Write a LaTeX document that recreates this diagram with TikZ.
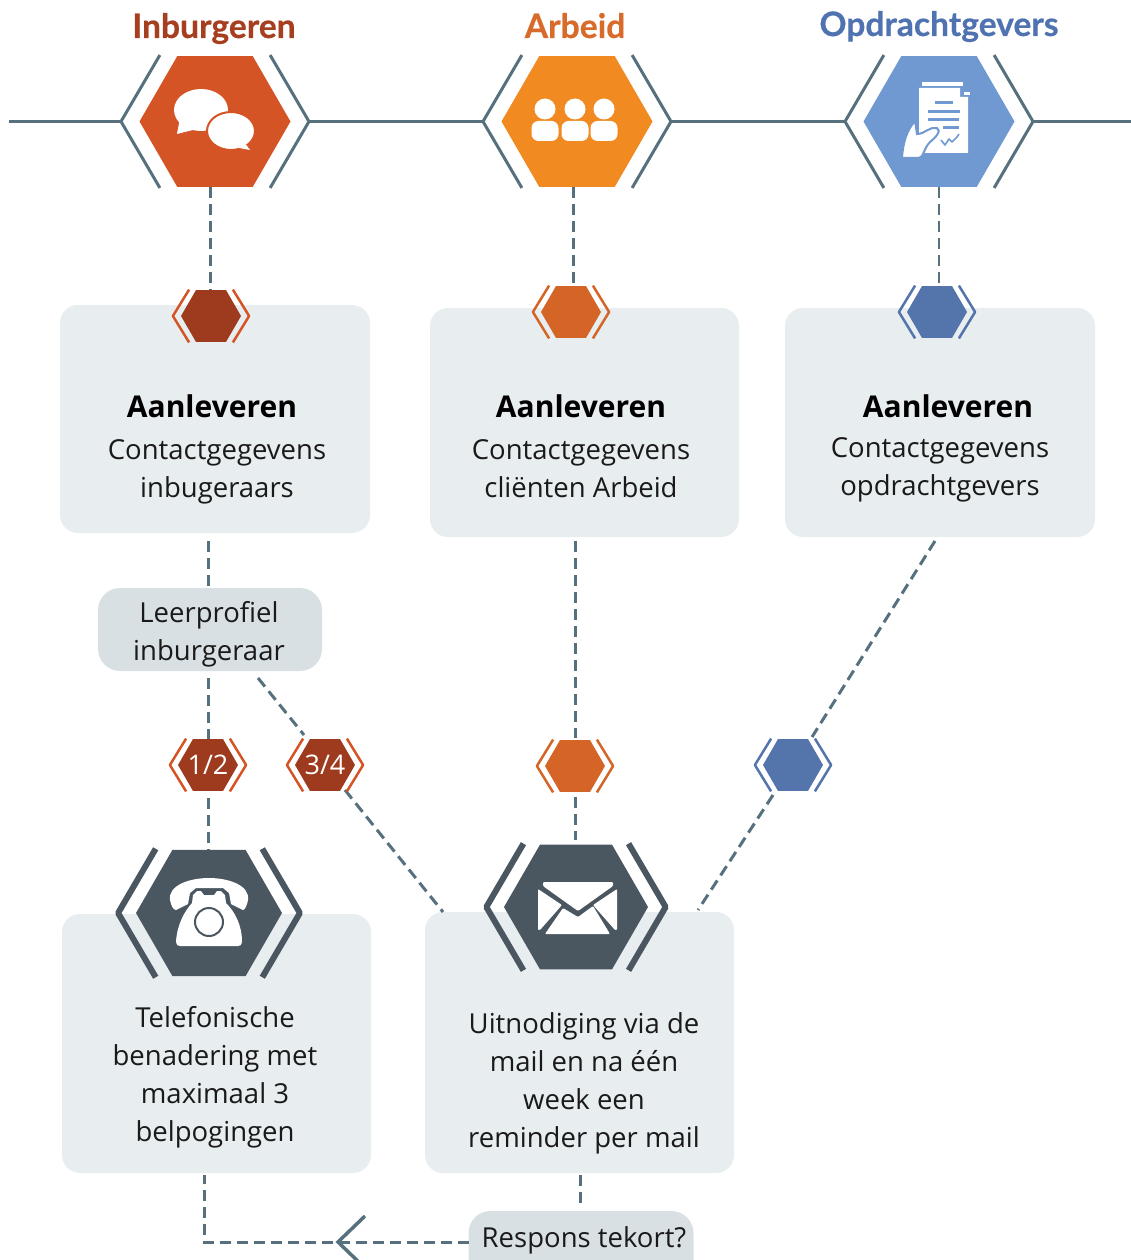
\documentclass[tikz,border=0pt]{standalone}
\usepackage{fontspec}
\setmainfont{Open Sans}
\newfontfamily\titlefont{Lato}[BoldFeatures={FakeBold=0.5}]
\usetikzlibrary{calc}
\pgfdeclarelayer{cardlayer}
\pgfdeclarelayer{connlayer}
\pgfsetlayers{cardlayer,connlayer,main}
\definecolor{linecol}{HTML}{56707E}
\definecolor{cardcol}{HTML}{E8EDEF}
\definecolor{pillcol}{HTML}{D9E0E4}
\definecolor{txtcol}{HTML}{1A1A1A}
\definecolor{hexred}{HTML}{D45426}
\definecolor{hexorange}{HTML}{F08A21}
\definecolor{hexblue}{HTML}{7099D2}
\definecolor{darkred}{HTML}{9E3B1E}
\definecolor{midorange}{HTML}{D56527}
\definecolor{midblue}{HTML}{5474AC}
\definecolor{slate}{HTML}{4A5660}
\definecolor{titlered}{HTML}{A63E20}
\definecolor{titleorange}{HTML}{D86A2A}
\definecolor{titleblue}{HTML}{4F72B0}
% name, x, y, R, fill colour, chevron colour, chevron width, text
\newcommand{\hexmark}[8]{%
  \ifdim #4pt>40pt \def\chevtip{1.245}\else \def\chevtip{1.27}\fi
  \begin{scope}[shift={(#2,#3)},x=#4pt,y=#4pt]
    \fill[#5] (-1,0) -- (-.5,-.866) -- (.5,-.866) -- (1,0) -- (.5,.866) -- (-.5,.866) -- cycle;
    \draw[#6,line width=#7,line join=bevel] (-.73,-.88) -- (-\chevtip,0) -- (-.73,.88);
    \draw[#6,line width=#7,line join=bevel] (.73,-.88) -- (\chevtip,0) -- (.73,.88);
  \end{scope}
  \node[minimum width=#4*2pt,minimum height=#4*1.732pt,inner sep=0pt,outer sep=0pt,text=white,font=\fontsize{27}{27}\selectfont] (#1) at (#2,#3) {#8};
}
\tikzset{
  card/.style={fill=cardcol,rounded corners=18pt,inner sep=0pt,outer sep=0pt},
  pill/.style={fill=pillcol,rounded corners=22pt,inner sep=0pt,outer sep=0pt},
  conn/.style={draw=linecol,line width=3pt,dash pattern=on 11pt off 6pt},
  solidline/.style={draw=linecol,line width=3pt},
  head/.style={font=\fontsize{30}{30}\selectfont\bfseries,text=black,inner sep=0pt},
  body/.style={font=\fontsize{27.5}{38}\selectfont,text=txtcol,align=center,inner sep=0pt,anchor=base},
  htitle/.style={font=\titlefont\fontsize{33.6}{34}\selectfont\bfseries,inner sep=0pt,anchor=base},
}
\begin{document}
\begin{tikzpicture}[x=1pt,y=-1pt]
\useasboundingbox (0,0) rectangle (1131,1260);
\clip (0,0) rectangle (1131,1260);
\begin{pgfonlayer}{cardlayer}
  \node[card,minimum width=310pt,minimum height=228pt] (cardA) at (215,419) {};
  \node[card,minimum width=309pt,minimum height=229pt] (cardB) at (584.5,422.5) {};
  \node[card,minimum width=310pt,minimum height=229pt] (cardC) at (940,422.5) {};
  \node[card,minimum width=309pt,minimum height=259pt] (cardD) at (216.5,1043.5) {};
  \node[card,minimum width=309pt,minimum height=261pt] (cardE) at (579.5,1042.5) {};
  \node[pill,minimum width=224pt,minimum height=83pt] (leer) at (210,629.5) {};
  \node[pill,minimum width=225pt,minimum height=90pt] (resp) at (581,1256) {};
\end{pgfonlayer}

% large hexagons
\hexmark{hexA}{215}{121.5}{75.5}{hexred}{linecol}{3pt}{}
\hexmark{hexB}{577}{121.5}{75.5}{hexorange}{linecol}{3pt}{}
\hexmark{hexC}{939}{121.5}{75.5}{hexblue}{linecol}{3pt}{}
% small hexagons
\hexmark{smA}{211}{316}{30}{darkred}{hexred}{2.5pt}{}
\hexmark{smB}{571}{312}{30}{midorange}{midorange}{2.5pt}{}
\hexmark{smC}{937}{312}{30}{midblue}{midblue}{2.5pt}{}
\hexmark{hOne}{208}{765}{30}{darkred}{hexred}{2.5pt}{1/2}
\hexmark{hThree}{325}{765}{30}{darkred}{hexred}{2.5pt}{3/4}
\hexmark{hMidB}{575}{766}{30}{midorange}{midorange}{2.5pt}{}
\hexmark{hMidC}{793}{765}{30}{midblue}{midblue}{2.5pt}{}
% dark hexagons
\hexmark{phone}{209}{913}{73}{slate}{slate}{6pt}{}
\hexmark{mail}{576}{907}{72}{slate}{slate}{6pt}{}

\coordinate (lineL) at (9,121.5);
\coordinate (lineR) at (1131,121.5);
\coordinate (ld1) at (258,678);
\coordinate (ld2) at (304,735);
\coordinate (th1) at (345,790);
\coordinate (th2) at (443,912);
\coordinate (cc1) at (935,541);
\coordinate (cc2) at (812,737);
\coordinate (mc1) at (773,795);
\coordinate (mc2) at (698,910);
\coordinate (elbow) at (204,1242);
\coordinate (tipA) at (365,1216);
\coordinate (tip) at (338,1242);
\coordinate (tipB) at (365,1268);
\coordinate (respL) at (469,1242);

\begin{pgfonlayer}{connlayer}
  \draw[solidline] (lineL) -- (121,121.5) (310,121.5) -- (483,121.5) (671,121.5) -- (845,121.5) (1033,121.5) -- (lineR);
  \draw[conn] (hexA.south -| 210,0) -- (210,290);
  \draw[conn] (hexB.south -| 573,0) -- (573,286);
  \draw[conn,line width=2pt] (hexC.south -| 939,0) -- (939,286);
  \draw[conn] (208,541) -- (leer.north -| 208,0);
  \draw[conn] (208,678) -- (hOne.north);
  \draw[conn] (208,798) -- (phone.north -| 208,0);
  \draw[conn] (ld1) -- (ld2);
  \draw[conn] (th1) -- (th2);
  \draw[conn] (575,541) -- (575,738);
  \draw[conn] (575,797) -- (575,840);
  \draw[conn] (cc1) -- (cc2);
  \draw[conn] (mc1) -- (mc2);
  \draw[conn] (580,1175) -- (580,1207);
  \draw[conn] (respL) -- (tip) -- (elbow) -- (204,1175);
  \draw[linecol,line width=3.5pt] (tipA) -- (tip) -- (tipB);
\end{pgfonlayer}

% titles
\node[htitle,text=titlered] (tA) at (214,38) {Inburgeren};
\node[htitle,text=titleorange] (tB) at (575,38) {Arbeid};
\node[htitle,text=titleblue] (tC) at (939,36) {Opdrachtgevers};

% card texts
\node[head] (a1) at (212,406) {Aanleveren};
\node[body] (a2) at (217,497) {Contactgegevens\\inbugeraars};
\node[head] (b1) at (581,406) {Aanleveren};
\node[body] (b2) at (581,497) {Contactgegevens\\cliënten Arbeid};
\node[head] (c1) at (948,406) {Aanleveren};
\node[body] (c2) at (940,495) {Contactgegevens\\opdrachtgevers};
\node[body] (d1) at (215,1141) {Telefonische\\benadering met\\maximaal 3\\belpogingen};
\node[body] (e1) at (584,1147) {Uitnodiging via de\\mail en na één\\week een\\reminder per mail};
\node[body] (l1) at (209,660) {Leerprofiel\\inburgeraar};
\node[body] (r1) at (584,1247) {Respons tekort?};

% icon: speech bubbles
\fill[white] (201,110) ellipse [x radius=27,y radius=21];
\fill[white] (180,118) -- (177,134) -- (197,129) -- cycle;
\fill[white,draw=hexred,line width=2pt] (231,131) ellipse [x radius=24,y radius=19];
\fill[white] (244,142) -- (250,150) -- (234,147) -- cycle;

% icon: people
\foreach \px in {545,575,604}{
  \fill[white] (\px,109) circle [radius=10.5];
  \fill[white,rounded corners=7pt] (\px-13.5,141) -- (\px-13.5,121) -- (\px+13.5,121) -- (\px+13.5,141) -- cycle;
}

% icon: document
\fill[white] (922,82) rectangle (963,86);
\fill[white] (919,88) -- (960,88) -- (960,97) -- (968,97) -- (968,153) -- (919,153) -- cycle;
\fill[white] (964,92) rectangle (970,95);
\fill[hexblue] (935,101) rectangle (953,104);
\fill[hexblue] (928,110) rectangle (960,113);
\fill[hexblue] (928,118) rectangle (959,121);
\fill[hexblue] (943,126) rectangle (959,129);
\draw[hexblue,line width=1.6pt,line join=round] (941,140) -- (945,145) -- (949,139) -- (952,142) -- (957,137) -- (959,134);
\fill[white,draw=hexblue,line width=2pt] (902,158) .. controls (903,142) and (907,130) .. (915,121) -- (917,134) .. controls (925,134) and (930,126) .. (937,128) .. controls (942,131) and (935,138) .. (930,142) .. controls (926,146) and (925,150) .. (922,156) -- (919,158) -- cycle;

% icon: telephone
\fill[white] (170,900) .. controls (168,885) and (190,878) .. (209,878) .. controls (228,878) and (250,885) .. (248,900) .. controls (247,905) and (245,910) .. (243,910) -- (231,904) -- (229,893) -- (223,888) -- (196,888) -- (190,893) -- (188,904) -- (176,910) .. controls (173,910) and (171,905) .. (170,900) -- cycle;
\fill[white] (193,895) -- (197,891) -- (201,891) -- (204,895) -- (214,895) -- (217,891) -- (221,891) -- (225,895) -- (226,903) .. controls (235,912) and (242,925) .. (242,942) .. controls (242,945) and (240,946) .. (238,946) -- (180,946) .. controls (178,946) and (176,945) .. (176,942) .. controls (177,925) and (184,912) .. (192,903) -- cycle;
\draw[slate,line width=2pt] (209,922) circle [radius=14];

% icon: envelope
\fill[white,rounded corners=1pt] (543,882) -- (613,882) -- (613,886) -- (578,911) -- (543,886) -- cycle;
\fill[white,rounded corners=1pt] (538,889) -- (562,905) -- (540,930) -- (538,930) -- cycle;
\fill[white,rounded corners=1pt] (617,889) -- (593,905) -- (615,930) -- (617,930) -- cycle;
\fill[white,rounded corners=1pt] (545,934) -- (610,934) -- (593,906) -- (578,917) -- (563,908) -- cycle;
\end{tikzpicture}
\end{document}
